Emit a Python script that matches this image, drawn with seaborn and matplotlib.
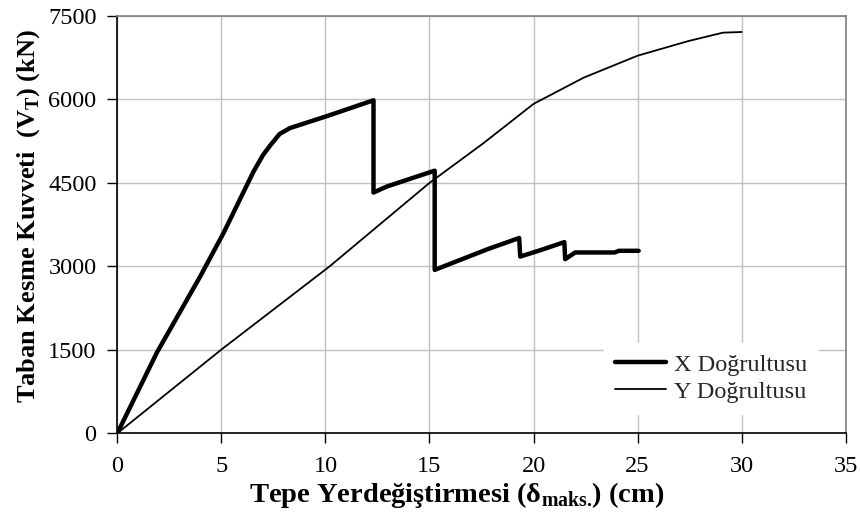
import matplotlib
matplotlib.use("Agg")
import matplotlib.pyplot as plt
import seaborn as sns
import pandas as pd

# X direction (thick line)
x_disp = [0, 1.9, 3.98, 5.10, 6.54, 7.0, 7.34, 7.8, 8.3, 10.07, 12.31, 12.31, 12.95, 15.25,
          15.25, 16.5, 17.8, 19.31, 19.36, 20.4, 21.48, 21.52, 22.0, 23.9, 24.1, 25.05]
x_force = [0, 1450, 2817, 3597, 4700, 5000, 5170, 5380, 5486, 5700, 5985, 4327, 4435, 4720,
           2937, 3120, 3310, 3510, 3176, 3300, 3436, 3129, 3250, 3250, 3280, 3280]

# Y direction (thin line)
y_disp = [0, 5, 10.2, 15.0, 17.6, 20.0, 22.4, 25.0, 27.4, 29.1, 30.0]
y_force = [0, 1505, 3000, 4500, 5216, 5920, 6390, 6786, 7045, 7200, 7212]

labels = ["X Doğrultusu", "Y Doğrultusu"]
x_ticks = [0, 5, 10, 15, 20, 25, 30, 35]
y_ticks = [0, 1500, 3000, 4500, 6000, 7500]

sns.set_theme(style="white")
plt.rcParams["font.family"] = ["Liberation Serif", "DejaVu Serif"]
plt.rcParams["mathtext.fontset"] = "custom"
plt.rcParams["mathtext.rm"] = "Liberation Serif"
plt.rcParams["mathtext.bf"] = "Liberation Serif:bold"

dfx = pd.DataFrame({"d": x_disp, "v": x_force})
dfy = pd.DataFrame({"d": y_disp, "v": y_force})

fig = plt.figure(figsize=(8.6, 5.15), dpi=100)
ax = fig.add_axes([0.1364, 0.1586, 0.8470, 0.8104])

sns.lineplot(data=dfx, x="d", y="v", sort=False, estimator=None, color="black",
             linewidth=3.2, ax=ax, label=labels[0])
sns.lineplot(data=dfy, x="d", y="v", sort=False, estimator=None, color="black",
             linewidth=1.3, ax=ax, label=labels[1])

ax.set_xlim(0, 35)
ax.set_ylim(0, 7500)
ax.set_xticks(x_ticks)
ax.set_yticks(y_ticks)
ax.grid(True, color="#c0c0c0", linewidth=1.0)
ax.set_axisbelow(True)

for s in ["top", "right"]:
    ax.spines[s].set_color("#808080")
    ax.spines[s].set_linewidth(1.2)
for s in ["left", "bottom"]:
    ax.spines[s].set_color("black")
    ax.spines[s].set_linewidth(1.2)

ax.tick_params(axis="both", which="major", direction="out", length=7, width=1,
               color="black", labelsize=17.5, labelcolor="black", left=True, bottom=True)
ax.tick_params(axis="x", pad=9)
ax.tick_params(axis="y", pad=8)

ax.set_xlabel("Tepe Yerdeğiştirmesi (δ$_\\mathregular{maks.}\\!$) (cm)", fontsize=20.5,
              fontweight="bold", color="black")
ax.xaxis.set_label_coords(0.466, -0.112)
ax.set_ylabel("Taban Kesme Kuvveti  (V$_\\mathregular{T}$) (kN)", fontsize=19,
              fontweight="bold", color="black")
ax.yaxis.set_label_coords(-0.103, 0.52)

leg = ax.legend(loc="center", bbox_to_anchor=(0.815, 0.132), fontsize=17.5, frameon=True,
                facecolor="white", edgecolor="white", framealpha=1, fancybox=False,
                handlelength=2.1, handletextpad=0.3, labelspacing=0.2, borderpad=0.45)

fig.savefig("out.png", dpi=100)
